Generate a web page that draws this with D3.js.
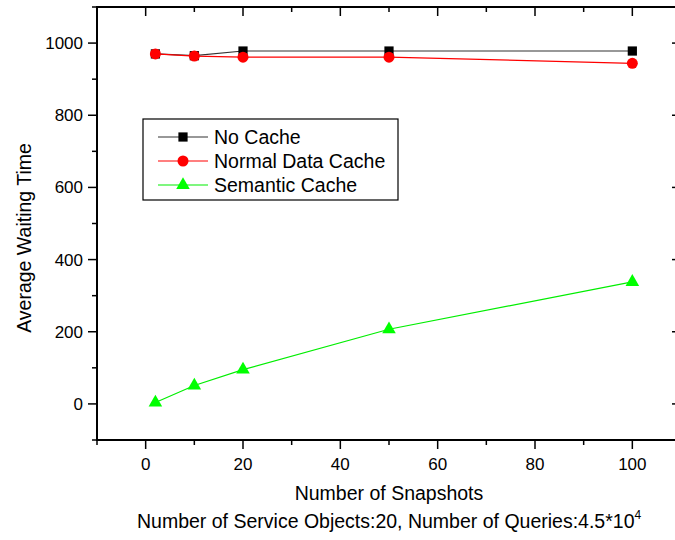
<!DOCTYPE html>
<html>
<head>
<meta charset="utf-8">
<script src="https://cdn.jsdelivr.net/npm/d3@7"></script>
<style>
  body { margin: 0; background: #fff; }
  svg { display: block; font-family: "Liberation Sans", Arial, sans-serif; }
</style>
</head>
<body>
<svg id="chart" width="675" height="540"></svg>
<script>
// data
const snapshots = [2, 10, 20, 50, 100];
const noCache = [970, 965, 978, 978, 978];
const normalCache = [970, 964, 961, 961, 944];
const semanticCache = [4, 51, 95, 207, 338];
const xTicks = [0, 20, 40, 60, 80, 100];
const yTicks = [0, 200, 400, 600, 800, 1000];

const series = [
    { name: "No Cache", values: noCache, color: "#000000", line: "#333333", symbol: d3.symbolSquare, size: 85 },
    { name: "Normal Data Cache", values: normalCache, color: "#ff0000", line: "#ff0000", symbol: d3.symbolCircle, size: 95 },
    { name: "Semantic Cache", values: semanticCache, color: "#00ff00", line: "#00ee00", symbol: d3.symbolTriangle, size: 80 }
];

const svg = d3.select("#chart");
const margin = { left: 97, top: 7, right: 681, bottom: 440 };

const x = d3.scaleLinear().domain([-10, 110]).range([margin.left, margin.right]);
const y = d3.scaleLinear().domain([-100, 1100]).range([margin.bottom, margin.top]);

const xMinor = d3.range(-10, 111, 10);
const yMinor = d3.range(-100, 1101, 100);

// frame
svg.append("rect")
    .attr("x", margin.left)
    .attr("y", margin.top)
    .attr("width", margin.right - margin.left)
    .attr("height", margin.bottom - margin.top)
    .attr("fill", "none")
    .attr("stroke", "#000")
    .attr("stroke-width", 2);

const ticks = svg.append("g").attr("stroke", "#000").attr("stroke-width", 1.5);

// bottom (outward) + top (inward)
xMinor.forEach((v) => {
    const major = xTicks.includes(v);
    const len = major ? 9 : 5;
    ticks.append("line").attr("x1", x(v)).attr("x2", x(v))
        .attr("y1", margin.bottom).attr("y2", margin.bottom + len);
    ticks.append("line").attr("x1", x(v)).attr("x2", x(v))
        .attr("y1", margin.top).attr("y2", margin.top + len);
});

// left (outward) + right (inward)
yMinor.forEach((v) => {
    const major = yTicks.includes(v);
    const len = major ? 9 : 5;
    ticks.append("line").attr("y1", y(v)).attr("y2", y(v))
        .attr("x1", margin.left).attr("x2", margin.left - len);
    ticks.append("line").attr("y1", y(v)).attr("y2", y(v))
        .attr("x1", margin.right).attr("x2", margin.right - len);
});

svg.append("g").selectAll("text")
    .data(xTicks)
    .join("text")
    .attr("x", (d) => x(d))
    .attr("y", 470)
    .attr("text-anchor", "middle")
    .attr("font-size", 17)
    .text((d) => d);

svg.append("g").selectAll("text")
    .data(yTicks)
    .join("text")
    .attr("x", 83)
    .attr("y", (d) => y(d) + 6)
    .attr("text-anchor", "end")
    .attr("font-size", 17)
    .text((d) => d);

// axis titles
svg.append("text")
    .attr("x", 389)
    .attr("y", 500)
    .attr("text-anchor", "middle")
    .attr("font-size", 19.5)
    .text("Number of Snapshots");

const sub = svg.append("text")
    .attr("x", 137)
    .attr("y", 528)
    .attr("font-size", 19.5)
    .text("Number of Service Objects:20, Number of Queries:4.5*10");
sub.append("tspan")
    .attr("dy", -9)
    .attr("font-size", 12)
    .text("4");

svg.append("text")
    .attr("transform", "translate(31,238) rotate(-90)")
    .attr("text-anchor", "middle")
    .attr("font-size", 19.5)
    .text("Average Waiting Time");

// series
const line = d3.line()
    .x((d, i) => x(snapshots[i]))
    .y((d) => y(d));

series.forEach((s) => {
    svg.append("path")
        .datum(s.values)
        .attr("fill", "none")
        .attr("stroke", s.line)
        .attr("stroke-width", 1.2)
        .attr("d", line);
});

series.forEach((s) => {
    svg.append("g").selectAll("path")
        .data(s.values)
        .join("path")
        .attr("transform", (d, i) => `translate(${x(snapshots[i])},${y(d)})`)
        .attr("d", d3.symbol().type(s.symbol).size(s.size))
        .attr("fill", s.color);
});

// legend
const legend = svg.append("g");
legend.append("rect")
    .attr("x", 143)
    .attr("y", 119)
    .attr("width", 255)
    .attr("height", 81)
    .attr("fill", "#fff")
    .attr("stroke", "#000")
    .attr("stroke-width", 1.2);

series.forEach((s, i) => {
    const ly = 137 + i * 24;
    legend.append("line")
        .attr("x1", 158).attr("x2", 208)
        .attr("y1", ly).attr("y2", ly)
        .attr("stroke", s.line)
        .attr("stroke-width", 1.2);
    legend.append("path")
        .attr("transform", `translate(183,${ly})`)
        .attr("d", d3.symbol().type(s.symbol).size(s.size))
        .attr("fill", s.color);
    legend.append("text")
        .attr("x", 214)
        .attr("y", ly + 7)
        .attr("font-size", 19.5)
        .text(s.name);
});
</script>
</body>
</html>
